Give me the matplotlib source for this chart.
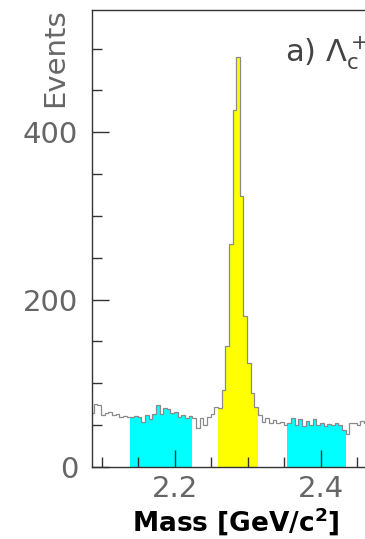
import numpy as np
import matplotlib
matplotlib.use("Agg")
import matplotlib.pyplot as plt
from matplotlib.ticker import MultipleLocator

# bin edges (5 MeV bins centred on the Lambda_c mass window)
edges = np.round(np.arange(2.084, 2.4891, 0.005), 4)

# events per bin
counts = [65, 75, 74, 62, 64, 66, 62, 63, 60, 61,
          60, 60, 61, 60, 54, 62, 57, 63, 74, 63,
          70, 69, 65, 66, 60, 62, 58, 61, 58, 46,
          58, 50, 60, 63, 72,
          70, 92, 145, 267, 427, 490, 324, 181, 124, 89, 72,
          62, 54, 58, 52, 56, 52, 54, 50,
          52, 58, 50, 57, 49, 55, 50, 57, 50, 52,
          49, 51, 50, 52, 50, 44,
          40, 52, 52, 50, 55, 52, 50, 54, 51, 53, 50]

# mass windows (bin index ranges)
signal_bins = (35, 46)
side_lo_bins = (11, 28)
side_hi_bins = (54, 70)

counts = np.array(counts)

fig = plt.figure(figsize=(3.65, 5.39), dpi=100)
ax = fig.add_axes([0.252, 0.1336, 0.80, 0.8478])

for (a, b), col in [(side_lo_bins, "#00ffff"), (side_hi_bins, "#00ffff"),
                    (signal_bins, "#ffff00")]:
    ax.stairs(counts[a:b], edges[a:b + 1], fill=True, color=col, lw=0)

ax.stairs(counts, edges, color="#8a8a8a", lw=0.9)

ax.set_xlim(2.0865, 2.4865)
ax.set_ylim(0, 546)

ax.xaxis.set_major_locator(MultipleLocator(0.2))
ax.xaxis.set_minor_locator(MultipleLocator(0.05))
ax.yaxis.set_major_locator(MultipleLocator(200))
ax.yaxis.set_minor_locator(MultipleLocator(50))
ax.tick_params(which="both", direction="in", top=False, right=False,
               colors="#333333", labelcolor="#666666", labelsize=21)
ax.tick_params(which="major", length=12, width=1)
ax.tick_params(which="minor", length=7, width=1)
ax.tick_params(axis="x", pad=6)
ax.tick_params(axis="y", pad=10)
for s in ax.spines.values():
    s.set_color("#333333")
    s.set_linewidth(1)

ax.set_xticklabels([], minor=True)
ax.xaxis.set_major_formatter(lambda v, p: f"{v:.1f}")

fig.text(0.152, 0.985, "Events", rotation=90, ha="center", va="top",
         fontsize=21, color="#666666")
fig.text(0.645, 0.031, r"Mass [GeV/c$^\mathbf{2}$]", ha="center", va="center",
         fontsize=19, color="black", fontweight="bold")
ax.text(0.66, 0.905, r"a) $\mathrm{\Lambda}_\mathrm{c}^+$", transform=ax.transAxes,
        fontsize=22, color="#444444", ha="left", va="center")

fig.savefig("out.png", dpi=100)
